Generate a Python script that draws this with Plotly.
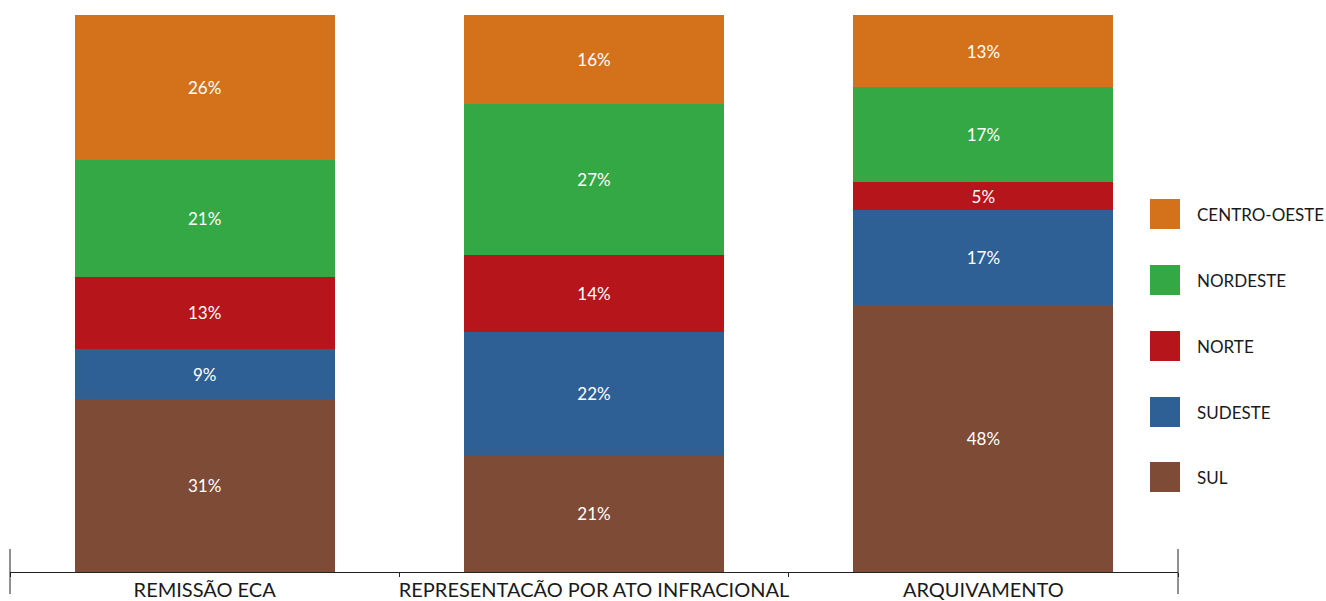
import plotly.graph_objects as go

# Share of cases by region for each outcome (percent, stacked bottom to top)
categories = ["REMISSÃO ECA", "REPRESENTACÃO POR ATO INFRACIONAL", "ARQUIVAMENTO"]
regions = ["SUL", "SUDESTE", "NORTE", "NORDESTE", "CENTRO-OESTE"]
sul = [31, 21, 48]
sudeste = [9, 22, 17]
norte = [13, 14, 5]
nordeste = [21, 27, 17]
centro_oeste = [26, 16, 13]
colors = ["#7E4B37", "#2F6095", "#B5151B", "#34A844", "#D4721C"]

series = [sul, sudeste, norte, nordeste, centro_oeste]

W, H = 1326, 601
ML, MR, MT, MB = 10, 148, 15, 29
PW, PH = W - ML - MR, H - MT - MB
FONT = "Lato, 'Noto Sans', sans-serif"


def px(x):
    return (x - ML) / PW


def py(y):
    return (H - MB - y) / PH


fig = go.Figure()
for name, vals, col in zip(regions, series, colors):
    fig.add_trace(go.Bar(
        x=categories, y=vals, name=name,
        marker=dict(color=col, line=dict(width=0)),
        text=[f"{v}%" for v in vals],
        textposition="inside", insidetextanchor="middle",
        textfont=dict(color="white", size=17, family=FONT),
        showlegend=False,
    ))

shapes = []
annotations = []
# end markers of the category axis
for xp in (ML, ML + PW):
    shapes.append(dict(type="line", xref="paper", yref="paper",
                       x0=px(xp), x1=px(xp), y0=py(549), y1=py(594),
                       line=dict(color="#222", width=1)))

# legend: top to bottom in reverse stacking order
leg_y = [214, 280, 346, 412, 477]
for (name, col), yc in zip(list(zip(regions, colors))[::-1], leg_y):
    shapes.append(dict(type="rect", xref="paper", yref="paper",
                       x0=px(1150), x1=px(1180), y0=py(yc + 15), y1=py(yc - 15),
                       fillcolor=col, line=dict(width=0)))
    annotations.append(dict(xref="paper", yref="paper", x=px(1195), y=py(yc),
                            text=name, showarrow=False, xanchor="left",
                            yanchor="middle",
                            font=dict(size=17, color="#1a1a1a", family=FONT)))

fig.update_layout(
    barmode="stack", bargap=0.332,
    width=W, height=H,
    margin=dict(l=ML, r=MR, t=MT, b=MB, autoexpand=False),
    paper_bgcolor="white", plot_bgcolor="white",
    shapes=shapes, annotations=annotations,
    xaxis=dict(range=[-0.5, 2.5], showline=True, linecolor="#222", linewidth=1,
               ticks="outside", tickson="boundaries", ticklen=4,
               tickcolor="#222", showgrid=False, zeroline=False,
               automargin=False, tickangle=0,
               tickfont=dict(size=20, color="#1a1a1a", family=FONT),
               ticklabelstandoff=0),
    yaxis=dict(range=[0, 100], visible=False, showgrid=False, zeroline=False,
               automargin=False),
)

fig.write_html("out.html")
